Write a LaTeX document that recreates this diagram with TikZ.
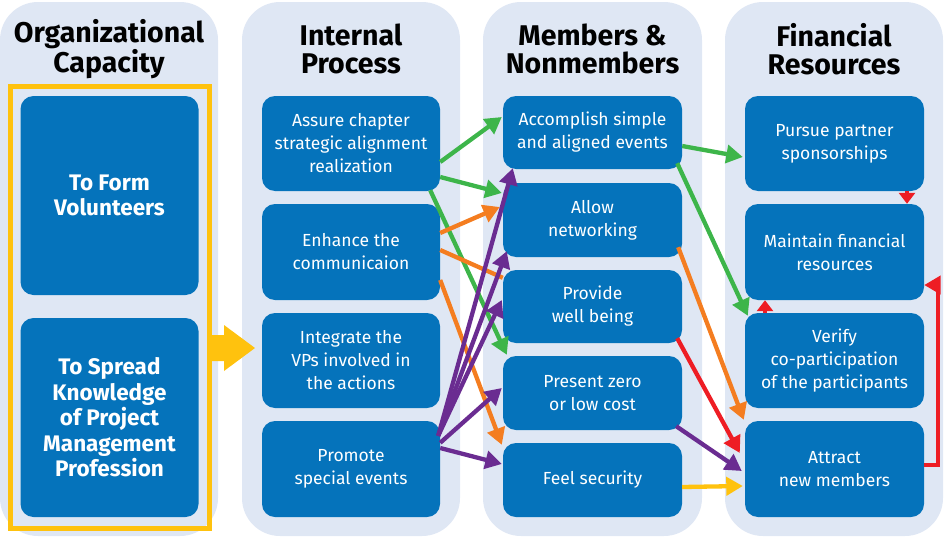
\documentclass[tikz,border=0pt]{standalone}
\usepackage{fontspec}
\setmainfont{Fira Sans}
\usetikzlibrary{arrows.meta}
\definecolor{panel}{HTML}{DFE7F4}
\definecolor{boxblue}{HTML}{0573BB}
\definecolor{ygold}{HTML}{FFC20E}
\definecolor{agreen}{HTML}{3DB54A}
\definecolor{aorange}{HTML}{F47D20}
\definecolor{apurple}{HTML}{6A2C91}
\definecolor{ared}{HTML}{EE1D24}
\begin{document}
\begin{tikzpicture}[x=1pt,y=-1pt,
  panelbox/.style={fill=panel, rounded corners=38pt},
  bx/.style={fill=boxblue, rounded corners=13pt, text=white, align=center, inner sep=0pt,
    minimum width=178pt, font=\fontsize{17.5}{23}\selectfont},
  bigbx/.style={bx, font=\bfseries\fontsize{22.5}{25.5}\selectfont},
  ttl/.style={align=center, inner sep=0pt, font=\bfseries\fontsize{28.5}{28.5}\selectfont},
  conn/.style={line width=4.3pt, -{Triangle[length=16.5pt,width=18pt]}},
  gconn/.style={conn, draw=agreen},
  oconn/.style={conn, draw=aorange},
  pconn/.style={conn, draw=apurple},
  rconn/.style={conn, draw=ared},
  yconn/.style={conn, draw=ygold},
  rshort/.style={draw=ared, line width=4.3pt, -{Triangle[length=11pt,width=16pt]}}]
\useasboundingbox (0,0) rectangle (945,538);
% panels
\fill[panelbox] (0,2) rectangle (218,536);
\fill[panelbox] (242,2) rectangle (460,536);
\fill[panelbox] (483,2) rectangle (702,536);
\fill[panelbox] (725,2) rectangle (943,536);
% titles
\node[ttl] (t1) at (109,49) {Organizational\\Capacity};
\node[ttl] (t2) at (351,49) {Internal\\Process};
\node[ttl] (t3) at (592.5,49) {Members \&\\Nonmembers};
\node[ttl] (t4) at (834,49) {Financial\\Resources};
% column 1
\draw[ygold, line width=5pt] (10.5,86.5) rectangle (209.5,528.5);
\node[bigbx, minimum height=199pt] (V) at (109.5,195.5) {To Form\\Volunteers};
\node[bigbx, minimum height=199pt] (K) at (109.5,417.5) {To Spread\\Knowledge\\of Project\\Management\\Profession};
\fill[ygold] (211,335) -- (224,335) -- (224,325) -- (255,348) -- (224,371) -- (224,361) -- (211,361) -- cycle;
% column 2
\node[bx, minimum height=95pt] (A) at (351,143.5) {Assure chapter\\strategic alignment\\realization};
\node[bx, minimum height=96pt] (B) at (351,252) {Enhance the\\communicaion};
\node[bx, minimum height=95pt] (C) at (351,360.5) {Integrate the\\VPs involved in\\the actions};
\node[bx, minimum height=96pt] (D) at (351,469) {Promote\\special events};
% column 3
\node[bx, minimum width=179pt, minimum height=73pt] (M1) at (592.5,132.5) {Accomplish simple\\and aligned events};
\node[bx, minimum width=179pt, minimum height=74pt] (M2) at (592.5,220) {Allow\\networking};
\node[bx, minimum width=179pt, minimum height=73pt] (M3) at (592.5,306.5) {Provide\\well being};
\node[bx, minimum width=179pt, minimum height=74pt] (M4) at (592.5,393) {Present zero\\or low cost};
\node[bx, minimum width=179pt, minimum height=74pt] (M5) at (592.5,480) {Feel security};
% column 4
\node[bx, minimum width=179pt, minimum height=95pt] (F1) at (834.5,143.5) {Pursue partner\\sponsorships};
\node[bx, minimum width=179pt, minimum height=96pt] (F2) at (834.5,252) {Maintain financial\\resources};
\node[bx, minimum width=179pt, minimum height=95pt] (F3) at (834.5,360.5) {Verify\\co-participation\\of the participants};
\node[bx, minimum width=179pt, minimum height=96pt] (F4) at (834.5,469) {Attract\\new members};
% green
\draw[gconn] ([yshift=-18.5pt]A.east) -- ([xshift=-1pt,yshift=15.5pt]M1.west);
\draw[gconn] ([yshift=-33.5pt]A.east) -- ([xshift=-1pt,yshift=27pt]M2.west);
\draw[gconn] ([xshift=-10pt,yshift=1pt]A.south east) -- ([xshift=4pt,yshift=1pt]M4.north west);
\draw[gconn] ([xshift=-5pt,yshift=6pt]M1.south east) -- ([xshift=3pt,yshift=-3pt]F3.north west);
\draw[gconn] ([yshift=-13.5pt]M1.east) -- ([xshift=-2pt,yshift=-13.5pt]F1.west);
% orange
\draw[oconn] ([yshift=19pt]B.east) -- ([xshift=-3pt,yshift=13pt]M2.west);
\draw[aorange, line width=4.3pt] ([yshift=2pt]B.east) -- ([yshift=-8pt]M3.north west);
\draw[oconn] ([yshift=-28pt]B.east) -- ([xshift=-1pt,yshift=-2pt]M5.north west);
\draw[oconn] ([xshift=-4pt,yshift=10pt]M2.south east) -- ([xshift=-1pt,yshift=1pt]F4.north west);
% purple
\draw[pconn] ([xshift=-2pt,yshift=-15pt]D.north east) -- ([xshift=10pt,yshift=1pt]M1.south west);
\draw[pconn] ([xshift=-2pt,yshift=-15pt]D.north east) -- ([xshift=4pt,yshift=6pt]M2.south west);
\draw[pconn] ([xshift=-2pt,yshift=-15pt]D.north east) -- ([xshift=-1pt,yshift=6.5pt]M3.west);
\draw[pconn] ([yshift=-22pt]D.north east) -- ([xshift=-1pt,yshift=5pt]M4.west);
\draw[pconn] ([yshift=21pt]D.east) -- ([xshift=-1pt,yshift=16pt]M5.west);
\draw[pconn] ([xshift=-6pt,yshift=4pt]M4.south east) -- ([xshift=-3pt,yshift=-2pt]F4.west);
% red
\draw[rshort] ([xshift=72.5pt]F1.south) -- ([xshift=72.5pt]F2.north);
\draw[rshort] ([xshift=-69.5pt]F3.north) -- ([xshift=-69.5pt]F2.south);
\draw[rconn] ([xshift=-5pt,yshift=5pt]M3.south east) -- ([xshift=-5pt,yshift=16pt]F4.west);
\draw[rconn] ([yshift=4pt]F4.east) -- ++(14,0) |- ([yshift=-33pt]F2.east);
% yellow
\draw[yconn] ([yshift=-7pt]M5.east) -- ([xshift=-2pt,yshift=-17pt]F4.west);
\end{tikzpicture}
\end{document}
